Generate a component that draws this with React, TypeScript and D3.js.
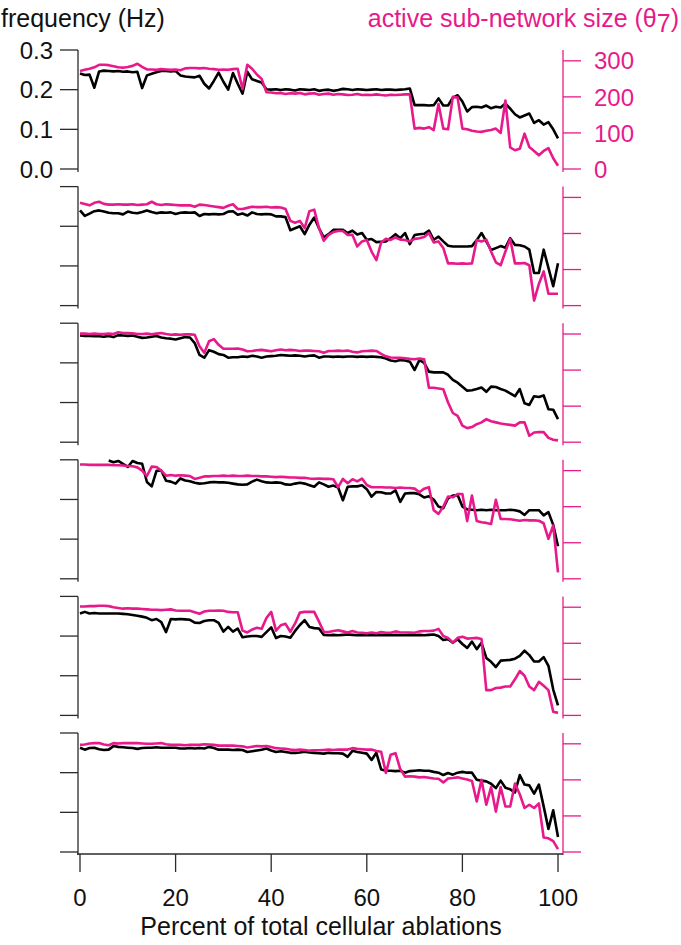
import { useMemo } from 'react';
import * as d3 from 'd3';

// percent of total cellular ablations (sampling grid)
const PERCENT = [
  0, 1, 2, 3, 4, 5, 6, 7, 8, 9, 10, 11, 12, 13, 14, 15, 16, 17, 18, 19,
  20, 21, 22, 23, 24, 25, 26, 27, 28, 29, 30, 31, 32, 33, 34, 35, 36, 37, 38, 39,
  40, 41, 42, 43, 44, 45, 46, 47, 48, 49, 50, 51, 52, 53, 54, 55, 56, 57, 58, 59,
  60, 61, 62, 63, 64, 65, 66, 67, 68, 69, 70, 71, 72, 73, 74, 75, 76, 77, 78, 79,
  80, 81, 82, 83, 84, 85, 86, 87, 88, 89, 90, 91, 92, 93, 94, 95, 96, 97, 98, 99, 100
];

// frequency (Hz), black traces
const FREQ_1 = [
  0.241, 0.237, 0.238, 0.205, 0.246, 0.248, 0.247, 0.246, 0.247, 0.245,
  0.246, 0.244, 0.245, 0.204, 0.236, 0.240, 0.244, 0.247, 0.247, 0.246,
  0.247, 0.236, 0.233, 0.232, 0.231, 0.235, 0.215, 0.203, 0.222, 0.243,
  0.220, 0.200, 0.242, 0.215, 0.190, 0.245, 0.226, 0.222, 0.218, 0.201,
  0.200, 0.201, 0.199, 0.201, 0.200, 0.198, 0.201, 0.200, 0.199, 0.201,
  0.197, 0.199, 0.200, 0.197, 0.199, 0.202, 0.201, 0.199, 0.201, 0.200,
  0.199, 0.200, 0.201, 0.199, 0.200, 0.200, 0.199, 0.200, 0.201, 0.203,
  0.161, 0.161, 0.161, 0.160, 0.161, 0.178, 0.160, 0.160, 0.180, 0.186,
  0.170, 0.145, 0.156, 0.157, 0.155, 0.160, 0.153, 0.157, 0.155, 0.165,
  0.152, 0.138, 0.130, 0.135, 0.140, 0.116, 0.123, 0.112, 0.118, 0.100,
  0.077
];
const FREQ_2 = [
  0.240, 0.226, 0.232, 0.238, 0.240, 0.237, 0.234, 0.233, 0.233, 0.230,
  0.237, 0.234, 0.233, 0.236, 0.240, 0.236, 0.233, 0.235, 0.234, 0.235,
  0.231, 0.234, 0.235, 0.234, 0.235, 0.226, 0.231, 0.230, 0.231, 0.230,
  0.231, 0.237, 0.238, 0.229, 0.232, 0.227, 0.235, 0.231, 0.230, 0.231,
  0.230, 0.225, 0.225, 0.223, 0.190, 0.195, 0.200, 0.180, 0.204, 0.222,
  0.195, 0.172, 0.180, 0.191, 0.191, 0.191, 0.183, 0.189, 0.179, 0.183,
  0.166, 0.168, 0.160, 0.161, 0.162, 0.170, 0.180, 0.170, 0.183, 0.155,
  0.178, 0.180, 0.181, 0.189, 0.166, 0.174, 0.162, 0.151, 0.149, 0.149,
  0.149, 0.149, 0.150, 0.165, 0.183, 0.162, 0.140, 0.145, 0.150, 0.146,
  0.170, 0.153, 0.152, 0.149, 0.141, 0.082, 0.082, 0.141, 0.095, 0.049,
  0.107
];
const FREQ_3 = [
  0.269, 0.268, 0.268, 0.267, 0.267, 0.266, 0.268, 0.265, 0.270, 0.269,
  0.268, 0.269, 0.266, 0.263, 0.264, 0.266, 0.268, 0.264, 0.262, 0.261,
  0.259, 0.262, 0.265, 0.264, 0.250, 0.220, 0.213, 0.232, 0.228, 0.222,
  0.220, 0.213, 0.214, 0.214, 0.216, 0.215, 0.218, 0.216, 0.213, 0.216,
  0.217, 0.218, 0.220, 0.219, 0.218, 0.219, 0.218, 0.216, 0.218, 0.219,
  0.213, 0.216, 0.216, 0.215, 0.216, 0.215, 0.216, 0.216, 0.215, 0.216,
  0.215, 0.216, 0.215, 0.214, 0.211, 0.206, 0.204, 0.207, 0.206, 0.203,
  0.182, 0.207, 0.200, 0.178, 0.176, 0.176, 0.176, 0.170, 0.157, 0.150,
  0.140, 0.130, 0.131, 0.134, 0.138, 0.127, 0.140, 0.139, 0.134, 0.130,
  0.123, 0.116, 0.134, 0.098, 0.094, 0.116, 0.114, 0.118, 0.083, 0.082,
  0.058
];
const FREQ_4 = [
  null, null, null, null, null, null, 0.298, 0.294, 0.297, 0.290,
  0.282, 0.297, 0.292, 0.290, 0.244, 0.233, 0.272, 0.273, 0.247, 0.245,
  0.240, 0.253, 0.248, 0.246, 0.242, 0.240, 0.241, 0.243, 0.244, 0.243,
  0.243, 0.242, 0.240, 0.238, 0.237, 0.238, 0.245, 0.250, 0.246, 0.243,
  0.242, 0.243, 0.242, 0.238, 0.237, 0.240, 0.242, 0.240, 0.236, 0.232,
  0.243, 0.238, 0.232, 0.235, 0.230, 0.198, 0.232, 0.233, 0.233, 0.236,
  0.226, 0.207, 0.219, 0.218, 0.215, 0.215, 0.223, 0.194, 0.215, 0.216,
  0.216, 0.213, 0.205, 0.208, 0.200, 0.182, 0.178, 0.203, 0.210, 0.211,
  0.182, 0.175, 0.174, 0.173, 0.174, 0.173, 0.174, 0.173, 0.173, 0.173,
  0.174, 0.173, 0.170, 0.161, 0.173, 0.173, 0.173, 0.160, 0.168, 0.136,
  0.082
];
const FREQ_5 = [
  0.257, 0.261, 0.257, 0.258, 0.257, 0.257, 0.257, 0.257, 0.257, 0.256,
  0.255, 0.253, 0.251, 0.249, 0.246, 0.240, 0.243, 0.235, 0.210, 0.243,
  0.242, 0.243, 0.242, 0.241, 0.234, 0.233, 0.238, 0.240, 0.240, 0.233,
  0.211, 0.223, 0.211, 0.219, 0.197, 0.199, 0.200, 0.200, 0.198, 0.210,
  0.222, 0.195, 0.200, 0.199, 0.196, 0.213, 0.228, 0.240, 0.223, 0.220,
  0.219, 0.203, 0.202, 0.203, 0.202, 0.203, 0.204, 0.203, 0.202, 0.203,
  0.202, 0.203, 0.202, 0.203, 0.202, 0.202, 0.203, 0.202, 0.202, 0.203,
  0.202, 0.203, 0.202, 0.203, 0.204, 0.200, 0.190, 0.192, 0.183, 0.192,
  0.180, 0.170, 0.186, 0.167, 0.183, 0.145, 0.135, 0.122, 0.138, 0.139,
  0.140, 0.143, 0.150, 0.163, 0.152, 0.136, 0.136, 0.147, 0.125, 0.065,
  0.025
];
const FREQ_6 = [
  0.263, 0.258, 0.262, 0.263, 0.259, 0.257, 0.258, 0.267, 0.265, 0.264,
  0.263, 0.262, 0.260, 0.262, 0.263, 0.263, 0.264, 0.263, 0.263, 0.263,
  0.263, 0.261, 0.261, 0.262, 0.261, 0.262, 0.261, 0.265, 0.262, 0.258,
  0.258, 0.258, 0.257, 0.258, 0.257, 0.252, 0.254, 0.256, 0.258, 0.261,
  0.256, 0.252, 0.254, 0.252, 0.250, 0.250, 0.251, 0.253, 0.251, 0.250,
  0.249, 0.248, 0.250, 0.249, 0.249, 0.248, 0.240, 0.255, 0.252, 0.250,
  0.248, 0.232, 0.250, 0.208, 0.205, 0.205, 0.204, 0.205, 0.200, 0.204,
  0.205, 0.206, 0.205, 0.205, 0.202, 0.200, 0.194, 0.199, 0.195, 0.200,
  0.202, 0.200, 0.200, 0.182, 0.180, 0.178, 0.172, 0.161, 0.180, 0.162,
  0.158, 0.150, 0.194, 0.170, 0.168, 0.147, 0.170, 0.115, 0.058, 0.105,
  0.038
];

// active sub-network size (theta 7), magenta traces
const SIZE_1 = [
  272, 275, 278, 282, 289, 289, 288, 285, 282, 281,
  283, 286, 292, 283, 276, 276, 275, 277, 276, 275,
  276, 274, 279, 280, 280, 279, 280, 278, 277, 275,
  276, 275, 277, 278, 222, 289, 278, 262, 250, 213,
  212, 210, 211, 208, 210, 209, 211, 207, 209, 210,
  206, 208, 209, 206, 208, 207, 205, 206, 208, 205,
  206, 205, 207, 205, 204, 206, 205, 206, 207, 207,
  112, 114, 112, 116, 108, 180, 112, 110, 200, 198,
  112, 110, 106, 104, 103, 106, 108, 112, 100, 190,
  60, 52, 56, 98, 61, 50, 38, 50, 58, 30,
  9
];
const SIZE_2 = [
  285, 282, 278, 285, 288, 282, 280, 280, 281, 280,
  280, 281, 279, 280, 281, 288, 281, 279, 281, 280,
  279, 278, 278, 278, 274, 280, 279, 277, 275, 273,
  271, 277, 281, 268, 268, 271, 274, 273, 273, 274,
  272, 273, 272, 268, 235, 230, 235, 215, 262, 266,
  215, 180, 196, 204, 207, 207, 196, 196, 164, 178,
  182, 150, 126, 175, 185, 182, 189, 183, 182, 178,
  185, 187, 190, 201, 175, 178, 160, 117, 117, 116,
  117, 116, 117, 182, 178, 183, 150, 120, 112, 150,
  185, 117, 117, 118, 112, 14, 60, 95, 33, 33,
  33
];
const SIZE_3 = [
  301, 301, 300, 301, 300, 300, 301, 300, 305, 303,
  303, 302, 300, 300, 301, 299, 301, 303, 300, 298,
  299, 298, 299, 299, 298, 266, 248, 280, 286, 270,
  259, 259, 259, 260, 257, 252, 253, 255, 256, 254,
  252, 255, 257, 255, 256, 255, 253, 254, 254, 253,
  252, 248, 253, 253, 254, 253, 254, 251, 249, 252,
  253, 254, 253, 245, 238, 235, 234, 234, 233, 231,
  230, 232, 230, 151, 151, 149, 147, 110, 81, 73,
  46, 39, 42, 50, 55, 64, 58, 55, 52, 50,
  48, 46, 55, 55, 18, 27, 28, 28, 12, 7,
  5
];
const SIZE_4 = [
  317, 317, 316, 316, 316, 316, 316, 315, 315, 314,
  313, 312, 309, 300, 285, 311, 310, 300, 286, 288,
  286, 287, 286, 285, 277, 280, 284, 284, 285, 285,
  286, 285, 286, 285, 285, 286, 285, 285, 284, 284,
  283, 282, 283, 282, 281, 281, 280, 280, 278, 277,
  278, 277, 277, 276, 254, 277, 265, 276, 270, 278,
  260, 254, 254, 254, 253, 253, 252, 253, 252, 252,
  250, 240, 250, 254, 190, 180, 200, 228, 226, 235,
  235, 160, 231, 160, 157, 155, 152, 219, 166, 166,
  165, 163, 161, 163, 162, 162, 161, 154, 111, 148,
  18
];
const SIZE_5 = [
  302, 302, 303, 303, 304, 304, 303, 300, 298, 296,
  297, 296, 296, 295, 294, 293, 293, 292, 293, 294,
  291, 290, 290, 290, 286, 282, 288, 290, 290, 291,
  290, 287, 286, 286, 235, 230, 238, 243, 240, 270,
  287, 235, 250, 254, 232, 255, 285, 287, 287, 287,
  260, 232, 231, 234, 236, 233, 230, 234, 230, 229,
  228, 230, 228, 231, 229, 229, 233, 230, 230, 230,
  229, 233, 234, 234, 235, 240, 220, 215, 202, 215,
  218, 213, 214, 215, 212, 70, 70, 76, 77, 80,
  80, 100, 123, 110, 80, 70, 93, 82, 70, 10,
  7
];
const SIZE_6 = [
  297, 298, 301, 302, 302, 298, 296, 302, 301, 302,
  302, 302, 302, 301, 300, 300, 301, 302, 299, 297,
  297, 297, 296, 297, 297, 297, 299, 298, 297, 295,
  295, 295, 295, 294, 293, 290, 292, 294, 293, 294,
  291, 288, 287, 286, 284, 283, 284, 283, 281, 282,
  282, 283, 284, 283, 284, 284, 284, 288, 286, 285,
  284, 284, 280, 278, 219, 270, 274, 230, 209, 210,
  209, 207, 208, 206, 204, 203, 193, 204, 205, 207,
  204, 201, 197, 140, 200, 131, 180, 112, 180, 126,
  126, 190, 160, 122, 131, 122, 135, 40, 38, 30,
  8
];

const PANELS = [
  { freq: FREQ_1, size: SIZE_1 },
  { freq: FREQ_2, size: SIZE_2 },
  { freq: FREQ_3, size: SIZE_3 },
  { freq: FREQ_4, size: SIZE_4 },
  { freq: FREQ_5, size: SIZE_5 },
  { freq: FREQ_6, size: SIZE_6 }
];

const X_TICKS = [0, 20, 40, 60, 80, 100];
const FREQ_TICKS = [0, 0.1, 0.2, 0.3];
const SIZE_TICKS = [0, 100, 200, 300];

const WIDTH = 681;
const HEIGHT = 945;
const PINK = '#e8198b';
const AXIS = '#2b2b2b';
const FONT = '"Liberation Sans", Arial, Helvetica, sans-serif';

const LEFT_X = 78;
const RIGHT_X = 563;
const TICK = 18;
const TOP0 = 50;
const STEP = 136.6;
const PANEL_H = 119;

function Panel({ index, freq, size, x }) {
  const top = TOP0 + STEP * index;
  const bottom = top + PANEL_H;
  const yFreq = d3.scaleLinear().domain([0, 0.3]).range([bottom, top]);
  const ySize = d3.scaleLinear().domain([0, 330]).range([bottom, top]);

  const freqLine = d3
    .line<number | null>()
    .defined((v) => v != null)
    .x((_, i) => x(PERCENT[i]))
    .y((v) => yFreq(v as number));
  const sizeLine = d3
    .line<number>()
    .x((_, i) => x(PERCENT[i]))
    .y((v) => ySize(v));

  const first = index === 0;

  return (
    <g>
      <line x1={LEFT_X} x2={LEFT_X} y1={top} y2={bottom + 3} stroke={AXIS} strokeWidth={1.3} />
      {FREQ_TICKS.map((t) => (
        <g key={`f${t}`}>
          <line x1={LEFT_X - TICK} x2={LEFT_X} y1={yFreq(t)} y2={yFreq(t)} stroke={AXIS} strokeWidth={1.3} />
          {first && (
            <text x={53} y={yFreq(t)} dy="0.36em" textAnchor="end" fontSize={24} fill="#111">
              {t.toFixed(1)}
            </text>
          )}
        </g>
      ))}

      <line x1={RIGHT_X} x2={RIGHT_X} y1={top} y2={bottom + 3} stroke={PINK} strokeWidth={1.3} />
      {SIZE_TICKS.map((t) => (
        <g key={`s${t}`}>
          <line x1={RIGHT_X} x2={RIGHT_X + TICK} y1={ySize(t)} y2={ySize(t)} stroke={PINK} strokeWidth={1.3} />
          {first && (
            <text x={594} y={ySize(t)} dy="0.36em" fontSize={24} fill={PINK}>
              {t}
            </text>
          )}
        </g>
      ))}

      <path d={freqLine(freq) || ''} fill="none" stroke="#000" strokeWidth={2.6} strokeLinejoin="round" />
      <path d={sizeLine(size) || ''} fill="none" stroke={PINK} strokeWidth={2.6} strokeLinejoin="round" />
    </g>
  );
}

export default function App() {
  const x = useMemo(() => d3.scaleLinear().domain([0, 100]).range([80, 558]), []);
  const axisY = TOP0 + STEP * (PANELS.length - 1) + PANEL_H + 2;

  return (
    <svg
      width={WIDTH}
      height={HEIGHT}
      style={{ position: 'absolute', left: 0, top: 0, background: '#fff' }}
      fontFamily={FONT}
    >
      <rect width={WIDTH} height={HEIGHT} fill="#fff" />
      <text x={1} y={27} fontSize={25} fill="#111">frequency (Hz)</text>
      <text x={679} y={27} fontSize={25} fill={PINK} textAnchor="end">
        active sub-network size (θ<tspan dy={5}>7</tspan><tspan dy={-5}>)</tspan>
      </text>

      {PANELS.map((p, i) => (
        <Panel key={i} index={i} freq={p.freq} size={p.size} x={x} />
      ))}

      <line x1={LEFT_X - 1} x2={RIGHT_X} y1={axisY} y2={axisY} stroke={AXIS} strokeWidth={1.3} />
      {X_TICKS.map((t) => (
        <g key={`x${t}`}>
          <line x1={x(t)} x2={x(t)} y1={axisY} y2={axisY + TICK} stroke={AXIS} strokeWidth={1.3} />
          <text x={x(t)} y={906} textAnchor="middle" fontSize={24} fill="#111">
            {t}
          </text>
        </g>
      ))}
      <text x={(x(0) + x(100)) / 2 + 2} y={935} textAnchor="middle" fontSize={25} fill="#111">
        Percent of total cellular ablations
      </text>
    </svg>
  );
}
